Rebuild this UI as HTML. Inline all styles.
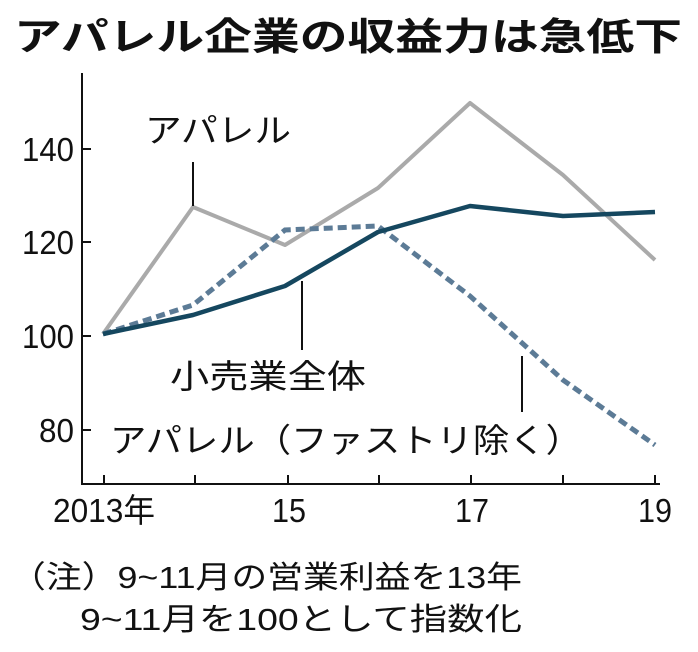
<!DOCTYPE html>
<html><head><meta charset="utf-8"><style>
html,body{margin:0;padding:0;background:#fff;}
svg{display:block;}
text{font-family:"Liberation Sans","Noto Sans CJK JP",sans-serif;fill:#111;}
</style></head><body>
<svg width="698" height="652" viewBox="0 0 698 652" xmlns="http://www.w3.org/2000/svg">
<text x="14" y="50" font-size="38" font-weight="bold" textLength="668" lengthAdjust="spacingAndGlyphs">アパレル企業の収益力は急低下</text>
<g stroke="#111" stroke-width="2" fill="none">
<path d="M82,73 V484 H660"/>
<path d="M82,149 h9 M82,242 h9 M82,336 h9 M82,430 h9"/>
<path d="M104,484 v-9 M195,484 v-9 M288,484 v-9 M379,484 v-9 M471,484 v-9 M563,484 v-9 M655,484 v-9"/>
</g>
<g font-size="33" lengthAdjust="spacingAndGlyphs">
<text x="22" y="161" textLength="52" lengthAdjust="spacingAndGlyphs">140</text>
<text x="22" y="254" textLength="52" lengthAdjust="spacingAndGlyphs">120</text>
<text x="22" y="348" textLength="52" lengthAdjust="spacingAndGlyphs">100</text>
<text x="39" y="442" textLength="35" lengthAdjust="spacingAndGlyphs">80</text>
<text x="53" y="522" textLength="102" lengthAdjust="spacingAndGlyphs">2013年</text>
<text x="272" y="522" textLength="34" lengthAdjust="spacingAndGlyphs">15</text>
<text x="455" y="522" textLength="34" lengthAdjust="spacingAndGlyphs">17</text>
<text x="638" y="522" textLength="34" lengthAdjust="spacingAndGlyphs">19</text>
</g>
<polyline points="103,334 193,207 285,245 378,188 470,103 563,175 655,260" fill="none" stroke="#aaaaaa" stroke-width="4" stroke-linejoin="round"/>
<polyline points="103,334 193,305 285,230 378,226 470,296 563,380 655,445" fill="none" stroke="#5c7b96" stroke-width="5" stroke-dasharray="9,5"/>
<polyline points="103,334 193,315 285,286 378,232 470,206 563,216 655,212" fill="none" stroke="#15475f" stroke-width="4.5" stroke-linejoin="round"/>
<g stroke="#111" stroke-width="2">
<path d="M193,162 V206"/><path d="M302,281 V350"/><path d="M522,356 V412"/>
</g>
<g font-size="33">
<text x="145" y="142" textLength="146" lengthAdjust="spacingAndGlyphs">アパレル</text>
<text x="170" y="388" textLength="196" lengthAdjust="spacingAndGlyphs">小売業全体</text>
<text x="110" y="452" textLength="472" lengthAdjust="spacingAndGlyphs">アパレル（ファストリ除く）</text>
</g>
<g font-size="31">
<text x="10" y="588" textLength="512" lengthAdjust="spacingAndGlyphs">（注）9~11月の営業利益を13年</text>
<text x="80" y="630" textLength="442" lengthAdjust="spacingAndGlyphs">9~11月を100として指数化</text>
</g>
</svg>
</body></html>
